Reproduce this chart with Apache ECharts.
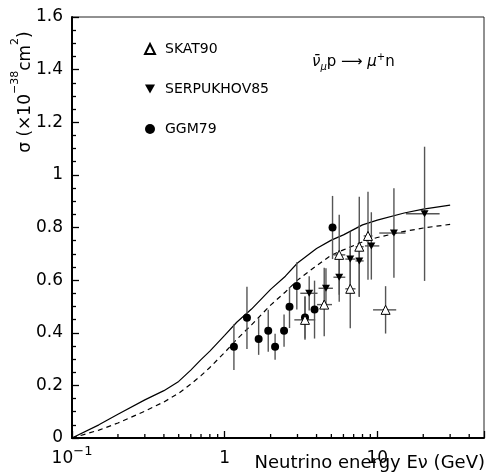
<!DOCTYPE html>
<html>
<head>
<meta charset="utf-8">
<script src="https://cdn.jsdelivr.net/npm/echarts@6/dist/echarts.min.js"></script>
<style>html,body{margin:0;padding:0;background:#fff}#c{width:487px;height:475px}</style>
</head>
<body>
<div id="c"></div>
<script>
// ---- data ----
const ggmE      = [1.15, 1.40, 1.67, 1.93, 2.14, 2.45, 2.66, 2.97, 3.36, 3.88, 5.09];
const ggmSigma  = [0.347, 0.457, 0.376, 0.408, 0.347, 0.408, 0.499, 0.578, 0.458, 0.488, 0.80];
const ggmErrUp  = [0.085, 0.118, 0.079, 0.079, 0.049, 0.061, 0.075, 0.09, 0.08, 0.11, 0.12];
const ggmErrDn  = [0.089, 0.119, 0.060, 0.080, 0.050, 0.061, 0.081, 0.09, 0.08, 0.11, 0.12];

const serpE     = [3.58, 4.61, 5.63, 6.65, 7.62, 9.14, 12.85, 20.4];
const serpSigma = [0.55, 0.569, 0.611, 0.68, 0.673, 0.73, 0.779, 0.852];
const serpErr   = [0.065, 0.076, 0.093, 0.104, 0.136, 0.128, 0.17, 0.255];
const serpELo   = [3.13, 4.12, 5.16, 6.17, 7.2, 8.3, 10.3, 15.4];
const serpEHi   = [4.06, 5.12, 6.17, 7.2, 8.14, 10.3, 15.3, 25.6];

const skatE     = [3.36, 4.49, 5.63, 6.65, 7.62, 8.69, 11.33];
const skatSigma = [0.449, 0.507, 0.696, 0.567, 0.727, 0.768, 0.487];
const skatErrUp = [0.089, 0.14, 0.152, 0.15, 0.19, 0.168, 0.09];
const skatErrDn = [0.076, 0.12, 0.152, 0.15, 0.19, 0.167, 0.09];
const skatELo   = [2.86, 4.03, 5.16, 6.17, 7.2, 8.14, 9.38];
const skatEHi   = [3.92, 5.05, 6.17, 7.2, 8.14, 9.3, 13.3];

const curveE      = [0.1, 0.15, 0.2, 0.3, 0.4, 0.5, 0.6, 0.7, 0.8, 1, 1.2, 1.5, 2, 2.5, 3, 4, 5, 6, 8, 10, 15, 20, 30];
const solidSigma  = [0, 0.05, 0.09, 0.145, 0.18, 0.215, 0.258, 0.298, 0.33, 0.39, 0.44, 0.49, 0.565, 0.615, 0.665, 0.72, 0.752, 0.772, 0.81, 0.828, 0.855, 0.87, 0.885];
const dashedSigma = [0, 0.03, 0.057, 0.102, 0.137, 0.17, 0.205, 0.237, 0.268, 0.325, 0.375, 0.43, 0.505, 0.555, 0.6, 0.655, 0.695, 0.715, 0.745, 0.762, 0.785, 0.798, 0.812];

const minorTickE = [0.2, 0.3, 0.4, 0.5, 0.6, 0.7, 0.8, 0.9, 2, 3, 4, 5, 6, 7, 8, 9, 20, 30, 40];

const FONT = 'DejaVu Sans';
const chart = echarts.init(document.getElementById('c'), null, {renderer: 'canvas'});

function errSeries(name, E, S, up, dn, lo, hi) {
  return {
    type: 'custom', name: name + '_err', silent: true, z: 3, clip: false,
    data: E.map((e, i) => [e, S[i], S[i] + up[i], S[i] - dn[i], lo ? lo[i] : e, hi ? hi[i] : e]),
    encode: {x: 0, y: 1},
    renderItem: function (params, api) {
      const x = api.value(0), y = api.value(1);
      const t = api.coord([x, api.value(2)]);
      const b = api.coord([x, api.value(3)]);
      const l = api.coord([api.value(4), y]);
      const r = api.coord([api.value(5), y]);
      const st = {stroke: '#555', lineWidth: 1.4};
      const children = [{type: 'line', shape: {x1: t[0], y1: t[1], x2: b[0], y2: b[1]}, style: st}];
      if (api.value(4) !== api.value(5)) {
        children.push({type: 'line', shape: {x1: l[0], y1: l[1], x2: r[0], y2: r[1]}, style: st});
      }
      return {type: 'group', children: children};
    }
  };
}

const option = {
  animation: false,
  backgroundColor: '#fff',
  grid: {left: 72, right: 1.5, top: 17, bottom: 37, show: true, borderColor: '#222', borderWidth: 1},
  legend: {
    orient: 'vertical', left: 139, top: 36, itemGap: 24, itemWidth: 10, itemHeight: 10,
    data: ['SKAT90', 'SERPUKHOV85', 'GGM79'],
    textStyle: {fontFamily: FONT, fontSize: 14, color: '#000', lineHeight: 16, padding: [0, 0, 0, 5]}
  },
  xAxis: {
    type: 'log', logBase: 10, min: 0.1, max: 50,
    splitLine: {show: false},
    axisLine: {lineStyle: {color: '#000', width: 2}},
    axisTick: {inside: true, length: 7, lineStyle: {color: '#000', width: 1.3}},
    axisLabel: {
      fontFamily: FONT, fontSize: 17, color: '#000', margin: 7,
      formatter: function (v) {
        const lg = Math.log10(v), e = Math.round(lg);
        if (Math.abs(lg - e) > 1e-6) return '';
        if (e === -1) return '{n|10}{sup|−1}';
        return '{n|' + String(Math.round(Math.pow(10, e))) + '}';
      },
      rich: {
        n: {fontFamily: FONT, fontSize: 17, color: '#000', verticalAlign: 'bottom', lineHeight: 22},
        sup: {fontFamily: FONT, fontSize: 13, color: '#000', verticalAlign: 'top', lineHeight: 13}
      }
    }
  },
  yAxis: {
    type: 'value', min: 0, max: 1.6, interval: 0.2,
    splitLine: {show: false},
    axisLine: {lineStyle: {color: '#000', width: 2}},
    axisTick: {inside: true, length: 7, lineStyle: {color: '#000', width: 1.3}},
    minorTick: {show: true, splitNumber: 4, length: 4, lineStyle: {color: '#000', width: 1.3}},
    axisLabel: {fontFamily: FONT, fontSize: 17, color: '#000', margin: 9}
  },
  graphic: [
    {
      type: 'text', x: 22, y: 92, rotation: Math.PI / 2,
      style: {
        text: '{n|σ (×10}{sup|−38}{n|cm}{sup|2}{n|)}',
        align: 'center', verticalAlign: 'middle',
        rich: {
          n: {fontFamily: FONT, fontSize: 17, fill: '#000', verticalAlign: 'bottom', lineHeight: 24},
          sup: {fontFamily: FONT, fontSize: 11, fill: '#000', verticalAlign: 'top', lineHeight: 12}
        }
      }
    },
    {
      type: 'text', right: 2, top: 454,
      style: {text: 'Neutrino energy Eν (GeV)', fontFamily: FONT, fontSize: 18, fill: '#000'}
    },
    {
      type: 'text', left: 312, top: 52,
      style: {
        text: '{it|ν̄}{sub|μ}{n|p ⟶ }{it|μ}{sup|+}{n|n}',
        rich: {
          n: {fontFamily: FONT, fontSize: 15, fill: '#000', verticalAlign: 'middle', lineHeight: 20},
          it: {fontFamily: FONT, fontSize: 15, fontStyle: 'italic', fill: '#000', verticalAlign: 'middle', lineHeight: 20},
          sub: {fontFamily: FONT, fontSize: 10, fontStyle: 'italic', fill: '#000', verticalAlign: 'bottom', lineHeight: 10},
          sup: {fontFamily: FONT, fontSize: 10, fill: '#000', verticalAlign: 'top', lineHeight: 10}
        }
      }
    }
  ],
  series: [
    {
      type: 'custom', name: 'minorTicks', silent: true, clip: false, z: 5,
      data: minorTickE.map(v => [v, 0]),
      encode: {x: 0, y: 1},
      renderItem: function (params, api) {
        const p = api.coord([api.value(0), 0]);
        return {type: 'line', shape: {x1: p[0], y1: p[1], x2: p[0], y2: p[1] - 4}, style: {stroke: '#000', lineWidth: 1.3}};
      }
    },
    {
      type: 'line', name: 'solid', data: curveE.map((e, i) => [e, solidSigma[i]]),
      showSymbol: false, symbol: 'none', silent: true, z: 2, smooth: false,
      lineStyle: {color: '#000', width: 1.2}
    },
    {
      type: 'line', name: 'dashed', data: curveE.map((e, i) => [e, dashedSigma[i]]),
      showSymbol: false, symbol: 'none', silent: true, z: 2, smooth: false,
      lineStyle: {color: '#000', width: 1.2, type: [5, 4]}
    },
    errSeries('GGM79', ggmE, ggmSigma, ggmErrUp, ggmErrDn, null, null),
    errSeries('SERPUKHOV85', serpE, serpSigma, serpErr, serpErr, serpELo, serpEHi),
    errSeries('SKAT90', skatE, skatSigma, skatErrUp, skatErrDn, skatELo, skatEHi),
    {
      type: 'scatter', name: 'GGM79', z: 6,
      data: ggmE.map((e, i) => [e, ggmSigma[i]]),
      symbol: 'circle', symbolSize: 8,
      itemStyle: {color: '#000', opacity: 1}
    },
    {
      type: 'scatter', name: 'SERPUKHOV85', z: 6,
      data: serpE.map((e, i) => [e, serpSigma[i]]),
      symbol: 'path://M0,0L10,0L5,9Z', symbolSize: [8, 7],
      itemStyle: {color: '#000', opacity: 1}
    },
    {
      type: 'scatter', name: 'SKAT90', z: 7,
      data: skatE.map((e, i) => [e, skatSigma[i]]),
      symbol: 'triangle', symbolSize: 9,
      itemStyle: {color: '#fff', borderColor: '#000', borderWidth: 1, opacity: 1}
    }
  ]
};
chart.setOption(option);
</script>
</body>
</html>
